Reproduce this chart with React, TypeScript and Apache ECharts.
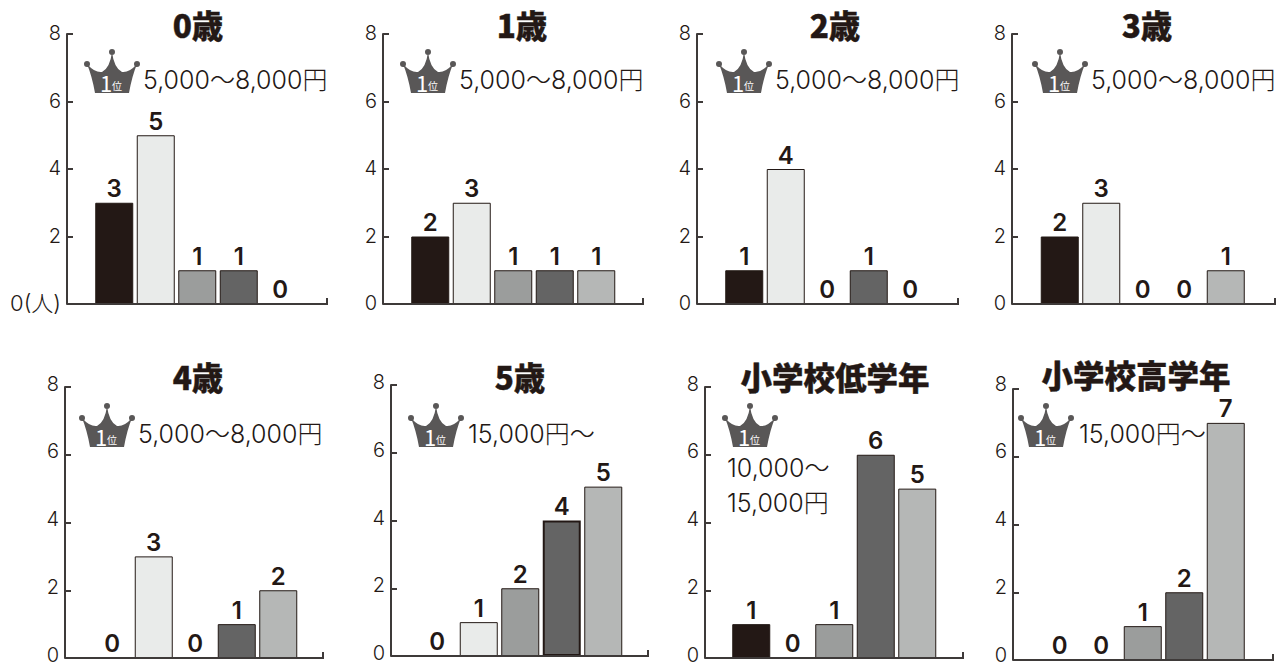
import React, { useEffect, useRef } from "react";
import * as echarts from "echarts";

const priceBands = ["区分A", "区分B", "区分C", "区分D", "区分E"];
const yTicks = [0, 2, 4, 6, 8];
const titles = ["0歳", "1歳", "2歳", "3歳", "4歳", "5歳", "小学校低学年", "小学校高学年"];
const age0 = [3, 5, 1, 1, 0];
const age1 = [2, 3, 1, 1, 1];
const age2 = [1, 4, 0, 1, 0];
const age3 = [2, 3, 0, 0, 1];
const age4 = [0, 3, 0, 1, 2];
const age5 = [0, 1, 2, 4, 5];
const lowerGrades = [1, 0, 1, 6, 5];
const upperGrades = [0, 0, 1, 2, 7];
const values = [age0, age1, age2, age3, age4, age5, lowerGrades, upperGrades];
const topAnswers = [
  ["5,000〜8,000円"],
  ["5,000〜8,000円"],
  ["5,000〜8,000円"],
  ["5,000〜8,000円"],
  ["5,000〜8,000円"],
  ["15,000円〜"],
  ["10,000〜", "15,000円"],
  ["15,000円〜"],
];
const barColors = ["#231815", "#e9ebea", "#9b9d9c", "#646464", "#b5b7b6"];

// layout of each panel in page pixels
const layout = [
  { l: 67, r: 327, t: 34, b: 304, s: 93.5, tx: 198, ty: 24, cx: 84, cy: 48, nx: 143, ny: 80, lift: 2 },
  { l: 383, r: 643, t: 34, b: 304, s: 409.5, tx: 522, ty: 24, cx: 400, cy: 48, nx: 459, ny: 80, lift: 2 },
  { l: 697, r: 958, t: 34, b: 304, s: 723.5, tx: 835, ty: 24, cx: 716, cy: 48, nx: 775, ny: 80, lift: 2 },
  { l: 1012, r: 1275, t: 34, b: 304, s: 1039, tx: 1147, ty: 24, cx: 1032, cy: 48, nx: 1091, ny: 80, lift: 2 },
  { l: 65, r: 323, t: 387, b: 658, s: 91.5, tx: 198, ty: 376, cx: 79, cy: 402, nx: 138, ny: 434, lift: 7 },
  { l: 391, r: 648, t: 385, b: 656, s: 416.5, tx: 520, ty: 376, cx: 408, cy: 402, nx: 468, ny: 434, lift: 6 },
  { l: 705, r: 963, t: 387, b: 658, s: 730.5, tx: 835, ty: 376, cx: 722, cy: 402, nx: 727, ny: 468, lift: 7 },
  { l: 1013, r: 1273, t: 389, b: 660, s: 1039, tx: 1136, ty: 374, cx: 1018, cy: 402, nx: 1079, ny: 434, lift: 11 },
];
const catW = 41.5;
const ink = "#231815";
const axisInk = "#3e3a39";
const numFont = "Inter, 'Noto Sans CJK JP', sans-serif";
const jpFont = "'Noto Sans CJK JP', sans-serif";

echarts.graphic.registerShape(
  "crown",
  echarts.graphic.extendPath(
    "M3 16 Q11 25 18 24 Q26 20 28 4 Q30 20 38 24 Q45 25 53 16 Q48 28 45 45 L11 45 Q8 28 3 16Z" +
      "M0 16a3 3 0 1 1 6 0a3 3 0 1 1 -6 0Z M25 4a3 3 0 1 1 6 0a3 3 0 1 1 -6 0Z M50 16a3 3 0 1 1 6 0a3 3 0 1 1 -6 0Z",
    {}
  )
);

export default function App() {
  const ref = useRef<HTMLDivElement>(null);
  useEffect(() => {
    document.body.style.margin = "0";
    const chart = echarts.init(ref.current!, undefined, { renderer: "svg" });
    const graphics: any[] = [];
    layout.forEach((p, i) => {
      graphics.push({
        type: "polyline",
        shape: { points: [[p.l, p.b], [p.r, p.b], [p.r, p.b - 6]] },
        style: { stroke: axisInk, lineWidth: 2, fill: "none" },
        z: 5,
      });
      graphics.push({ type: "crown", x: p.cx, y: p.cy, style: { fill: "#595757" } });
      graphics.push({
        type: "text", x: p.cx + 22, y: p.cy + 34,
        style: { text: "1", fill: "#fff", font: `400 22px ${jpFont}`, align: "center", verticalAlign: "middle" },
      });
      graphics.push({
        type: "text", x: p.cx + 33, y: p.cy + 37,
        style: { text: "位", fill: "#fff", font: `400 10px ${jpFont}`, align: "center", verticalAlign: "middle" },
      });
      topAnswers[i].forEach((line, k) => {
        graphics.push({
          type: "text", x: p.nx, y: p.ny + k * 35,
          style: { text: line, fill: ink, font: `300 25px ${numFont}`, verticalAlign: "middle" },
        });
      });
    });
    chart.setOption({
      animation: false,
      backgroundColor: "#fff",
      title: titles.map((t, i) => ({
        text: t,
        left: layout[i].tx,
        top: layout[i].ty - 18,
        padding: 0,
        textAlign: "center",
        textStyle: {
          fontFamily: jpFont, fontWeight: 900, fontSize: 31.5, color: ink, lineHeight: 36,
          textBorderColor: ink, textBorderWidth: 0.4,
        },
      })),
      grid: layout.map((p) => ({
        left: p.s, top: p.t, width: catW * 5, height: p.b - p.t, containLabel: false, outerBoundsMode: "none",
      })),
      xAxis: layout.map((_, i) => ({
        type: "category", gridIndex: i, data: priceBands,
        axisLine: { show: false }, axisTick: { show: false }, axisLabel: { show: false },
      })),
      yAxis: layout.map((p, i) => ({
        type: "value", gridIndex: i, min: yTicks[0], max: yTicks[yTicks.length - 1], interval: 2,
        position: "left", offset: p.s - p.l,
        axisLine: { show: true, lineStyle: { color: axisInk, width: 2 } },
        axisTick: { show: true, inside: true, length: 6, lineStyle: { color: axisInk, width: 2 } },
        splitLine: { show: false },
        axisLabel: {
          show: true, margin: 6, fontFamily: numFont, fontWeight: 300, fontSize: 20, color: ink, lineHeight: 16,
          padding: [0, 0, p.lift, 0],
          formatter: (v: number) => (i === 0 && v === 0 ? "{u|0(人)}" : String(v)),
          rich: { u: { fontFamily: numFont, fontWeight: 300, fontSize: 22, color: ink, lineHeight: 16 } },
        },
      })),
      series: values.map((vals, i) => ({
        type: "bar", xAxisIndex: i, yAxisIndex: i, barWidth: 38,
        data: vals.map((v, k) => ({
          value: v,
          itemStyle: { color: barColors[k], borderColor: v === 0 ? "transparent" : ink, borderWidth: i === 5 && k === 3 ? 2 : 1 },
        })),
        label: {
          show: true, position: "top", distance: 2, fontFamily: numFont, fontWeight: 600, fontSize: 24, color: ink,
        },
      })),
      graphic: graphics,
    });
    return () => chart.dispose();
  }, []);
  return <div ref={ref} style={{ width: 1277, height: 665 }} />;
}
